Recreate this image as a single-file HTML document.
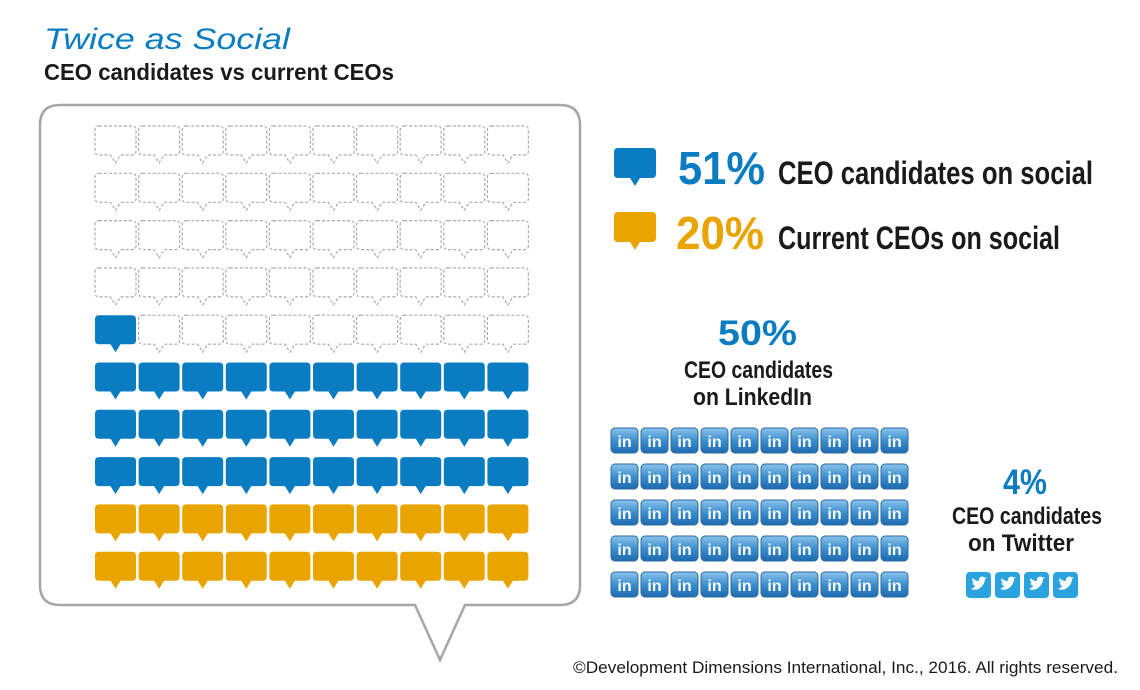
<!DOCTYPE html>
<html><head><meta charset="utf-8"><style>
body{margin:0;background:#fff;}
svg{display:block;font-family:"Liberation Sans",sans-serif;}
.n{font-family:"Liberation Sans Narrow","Liberation Sans",sans-serif;font-weight:bold;}
</style></head><body>
<svg id="c" width="1140" height="690" viewBox="0 0 1140 690">
<text x="44" y="49" font-size="30" font-style="italic" fill="#0a7cc1" textLength="246" lengthAdjust="spacingAndGlyphs">Twice as Social</text>
<text class="n" x="44" y="80" font-size="23" fill="#1a1a1a" textLength="350" lengthAdjust="spacingAndGlyphs">CEO candidates vs current CEOs</text>
<path d="M60,105 H560 Q580,105 580,125 V585 Q580,605 560,605 H465 L440,660 L415,605 H60 Q40,605 40,585 V125 Q40,105 60,105 Z" fill="none" stroke="#a6a6a6" stroke-width="2.5"/>
<g id="grid"></g>
<g id="legend"></g>
<text class="n" x="678" y="184" font-size="46" fill="#0a7cc1" textLength="87" lengthAdjust="spacingAndGlyphs">51%</text>
<text class="n" x="778" y="184" font-size="32" fill="#1a1a1a" textLength="315" lengthAdjust="spacingAndGlyphs">CEO candidates on social</text>
<text class="n" x="676" y="249" font-size="46" fill="#eaa400" textLength="88" lengthAdjust="spacingAndGlyphs">20%</text>
<text class="n" x="778" y="249" font-size="32" fill="#1a1a1a" textLength="282" lengthAdjust="spacingAndGlyphs">Current CEOs on social</text>
<text class="n" x="718" y="345" font-size="35" fill="#0a7cc1" textLength="79" lengthAdjust="spacingAndGlyphs">50%</text>
<text class="n" x="684" y="378" font-size="24" fill="#1a1a1a" textLength="149" lengthAdjust="spacingAndGlyphs">CEO candidates</text>
<text class="n" x="693" y="405" font-size="24" fill="#1a1a1a" textLength="119" lengthAdjust="spacingAndGlyphs">on LinkedIn</text>
<g id="li"></g>
<text class="n" x="1003" y="494" font-size="35" fill="#0a7cc1" textLength="44" lengthAdjust="spacingAndGlyphs">4%</text>
<text class="n" x="952" y="524" font-size="24" fill="#1a1a1a" textLength="150" lengthAdjust="spacingAndGlyphs">CEO candidates</text>
<text class="n" x="968" y="551" font-size="24" fill="#1a1a1a" textLength="106" lengthAdjust="spacingAndGlyphs">on Twitter</text>
<g id="tw"></g>
<text x="1118" y="673" font-size="17" fill="#1a1a1a" text-anchor="end" textLength="545" lengthAdjust="spacingAndGlyphs">©Development Dimensions International, Inc., 2016. All rights reserved.</text>
</svg>
<script>
const categories = ["CEO candidates on social", "Current CEOs on social"];
const socialValues = [51, 20];
const linkedinValue = 50;
const twitterValue = 4;

const NS = "http://www.w3.org/2000/svg";
function mk(tag, attrs, parent){const e=document.createElementNS(NS,tag);for(const k in attrs)e.setAttribute(k,attrs[k]);parent.appendChild(e);return e;}
function bubble(x,y,w,h,fill,dashed,parent){
  const r=4, tx=x+w/2;
  const d=`M${x+r},${y} H${x+w-r} Q${x+w},${y} ${x+w},${y+r} V${y+h-r} Q${x+w},${y+h} ${x+w-r},${y+h} H${tx+5} L${tx},${y+h+8} L${tx-5},${y+h} H${x+r} Q${x},${y+h} ${x},${y+h-r} V${y+r} Q${x},${y} ${x+r},${y} Z`;
  return mk("path", dashed?{d:d,fill:"none",stroke:"#aaa","stroke-width":1.2,"stroke-dasharray":"3 2"}:{d:d,fill:fill}, parent);
}
const grid=document.getElementById("grid");
const orange=socialValues[1], blue=socialValues[0]-socialValues[1];
const colX=i=>95+i*43.6, rowY=r=>126+r*47.3;
for(let k=0;k<100;k++){
  const r=9-Math.floor(k/10); const c=k%10;
  let fill=null,dashed=true;
  if(k<orange){fill="#eaa400";dashed=false;}
  else if(k<orange+blue){fill="#0a7cc1";dashed=false;}
  const el=bubble(colX(c),rowY(r),41,29,fill,dashed,grid);
  
  
}
const lg=document.getElementById("legend");
const l1=bubble(614,148,42,30,"#0a7cc1",false,lg);


const l2=bubble(614,212,42,30,"#eaa400",false,lg);


const defs=mk("defs",{},document.getElementById("c"));
const gr=mk("linearGradient",{id:"lig",x1:0,y1:0,x2:0,y2:1},defs);
mk("stop",{offset:"0","stop-color":"#8cc4ea"},gr);mk("stop",{offset:"0.5","stop-color":"#3c8fcf"},gr);mk("stop",{offset:"1","stop-color":"#1e6aae"},gr);
const li=document.getElementById("li");
for(let k=0;k<linkedinValue;k++){
  const c=k%10,r=Math.floor(k/10);
  const g=mk("g",{transform:`translate(${611+c*30},${428+r*36})`},li);
  
  
  mk("rect",{x:0,y:0,width:27,height:25,rx:4,fill:"url(#lig)",stroke:"#2a6aa6","stroke-width":1},g);
  const t=mk("text",{x:13.5,y:19,"font-size":16,"font-weight":"bold",fill:"#fff","text-anchor":"middle"},g);t.textContent="in";
}
const tw=document.getElementById("tw");
for(let k=0;k<twitterValue;k++){
  const g=mk("g",{transform:`translate(${966+k*29},${572})`},tw);
  
  
  mk("rect",{x:0,y:0,width:25,height:26,rx:4,fill:"#2ba3de"},g);
  mk("path",{d:"M5,17 Q10,19 14,16 Q19,12 19,7 L21,5 L18.5,5.5 Q16,3.5 14,5.5 Q12.5,7 13,9 Q9,9 6.5,6 Q5.5,9 8,11 L6.5,11 Q7,13.5 9.5,14 Q8,15.5 5,17 Z",fill:"#fff"},g);
}
</script>
</body></html>
